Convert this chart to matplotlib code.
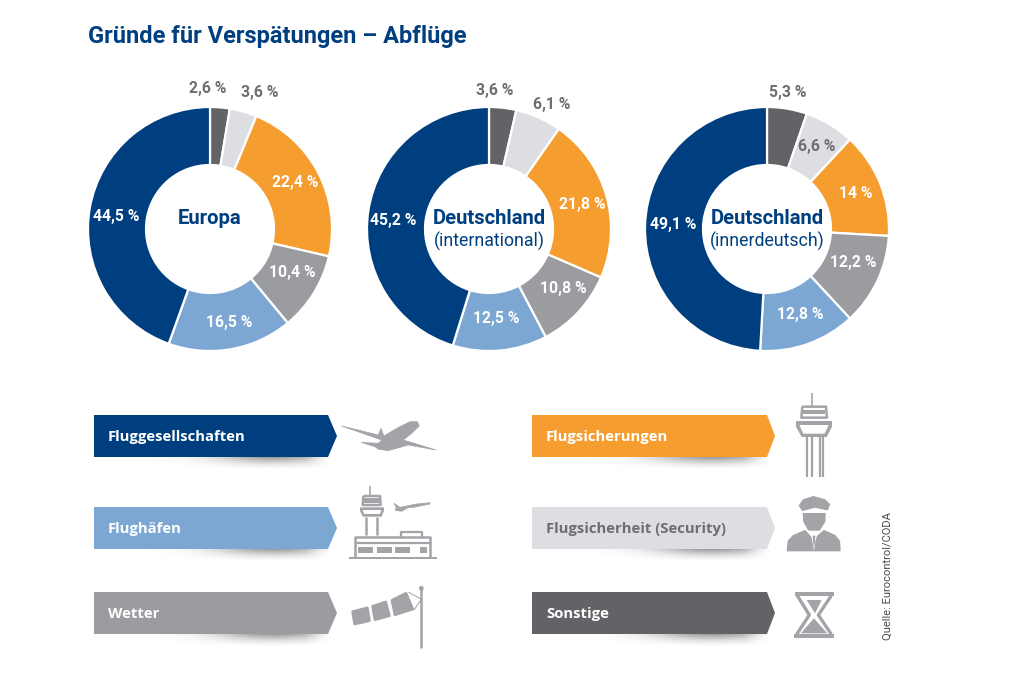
import numpy as np
import matplotlib
matplotlib.use('Agg')
import matplotlib.pyplot as plt
from matplotlib.patches import Polygon, Circle

# data
categories = ['Sonstige', 'Flugsicherheit (Security)', 'Flugsicherungen', 'Wetter', 'Flughäfen', 'Fluggesellschaften']
europa = [2.6, 3.6, 22.4, 10.4, 16.5, 44.5]
de_international = [3.6, 6.1, 21.8, 10.8, 12.5, 45.2]
de_innerdeutsch = [5.3, 6.6, 14, 12.2, 12.8, 49.1]
europa_labels = ['2,6 %', '3,6 %', '22,4 %', '10,4 %', '16,5 %', '44,5 %']
international_labels = ['3,6 %', '6,1 %', '21,8 %', '10,8 %', '12,5 %', '45,2 %']
innerdeutsch_labels = ['5,3 %', '6,6 %', '14 %', '12,2 %', '12,8 %', '49,1 %']
legend_rows = ['Fluggesellschaften', 'Flughäfen', 'Wetter', 'Flugsicherungen', 'Flugsicherheit (Security)', 'Sonstige']

# colours
NAVY = '#003f7f'
LIGHTBLUE = '#7da7d3'
GREY = '#9b9ca0'
ORANGE = '#f59d2e'
PALE = '#dcdee2'
DARK = '#626366'
ICON = '#a3a4a7'
LABEL = '#6d6e71'
colors = [DARK, PALE, ORANGE, GREY, LIGHTBLUE, NAVY]

W, H = 1024, 683
R = 122
HOLE = 64
FONT = ['Roboto', 'DejaVu Sans']

fig = plt.figure(figsize=(W / 100, H / 100), dpi=100, facecolor='white')
page = fig.add_axes([0, 0, 1, 1])
page.set_xlim(0, W)
page.set_ylim(H, 0)
page.axis('off')


def donut(cx, cy, values, labels, title, subtitle, label_pos, dark):
    ax = fig.add_axes([(cx - R) / W, 1 - (cy + R) / H, 2 * R / W, 2 * R / H])
    ax.pie(values, colors=colors, startangle=90, counterclock=False, radius=1,
           wedgeprops=dict(width=1 - HOLE / R, edgecolor='white', linewidth=1.6))
    ax.set_xlim(-1, 1)
    ax.set_ylim(-1, 1)
    for i, lab in enumerate(labels):
        x, y = label_pos[i]
        col = LABEL if i in dark else 'white'
        ax.text((x - cx) / R, (cy - y) / R, lab, ha='center', va='center', color=col,
                fontsize=11.3, fontweight='bold', family=FONT)
    if subtitle:
        ax.text(0, 0.09, title, ha='center', va='center', color=NAVY, fontsize=14.6,
                fontweight='bold', family=FONT)
        ax.text(0, -0.105, subtitle, ha='center', va='center', color=NAVY, fontsize=12.8,
                family=['Liberation Sans Narrow', 'Roboto'])
    else:
        ax.text(0, 0.09, title, ha='center', va='center', color=NAVY, fontsize=14.6,
                fontweight='bold', family=FONT)


donut(210, 229, europa, europa_labels, 'Europa', None,
      [(208, 89), (260, 92), (295, 182), (292, 273), (229, 322), (116, 217)], (0, 1))
donut(489, 229, de_international, international_labels, 'Deutschland', '(international)',
      [(495, 91), (552, 105), (582, 204), (563, 288), (496, 319), (393, 220)], (0, 1))
donut(767, 229, de_innerdeutsch, innerdeutsch_labels, 'Deutschland', '(innerdeutsch)',
      [(788, 93), (817, 147), (856, 193), (853, 262), (800, 315), (673, 224)], (0, 1))

page.text(88, 36, 'Gründe für Verspätungen – Abflüge', color=NAVY, fontsize=17,
          fontweight='bold', va='center', ha='left', family=FONT)


def shadow(x0, x1, y0):
    # soft drop shadow under a legend bar, strongest towards the right
    gx, gy = np.meshgrid(np.linspace(0, 1, 200), np.linspace(0, 1, 20))
    a = 0.55 * np.exp(-((gx - 0.72) / 0.28) ** 2) * (1 - gy) ** 1.6
    a = a * np.clip((1 - gx) / 0.12, 0, 1)  # no hard edge on the right
    img = np.zeros((20, 200, 4))
    img[..., :3] = 0.3
    img[..., 3] = a
    page.imshow(img, extent=(x0, x1, y0 + 13, y0), aspect='auto', zorder=1, interpolation='bilinear')


def bar(x0, y0, x1, y1, tip, color, text, text_color='white'):
    shadow(x0 + 30, x1 + 4, y1)
    ym = (y0 + y1) / 2
    page.add_patch(Polygon([(x0, y0), (x1, y0), (tip, ym), (x1, y1), (x0, y1)],
                           fc=color, ec='none', zorder=2))
    page.text(x0 + 14, ym + 1, text, color=text_color, fontsize=10.7, fontweight='bold',
              va='center', ha='left', family=['Open Sans', 'DejaVu Sans'], zorder=3)


bar(94, 415, 328, 457, 337, NAVY, legend_rows[0])
bar(94, 507, 328, 549, 337, LIGHTBLUE, legend_rows[1])
bar(94, 592, 328, 634, 337, GREY, legend_rows[2])
bar(532, 415, 767, 457, 775, ORANGE, legend_rows[3])
bar(532, 507, 767, 549, 775, PALE, legend_rows[4], text_color=LABEL)
bar(532, 592, 767, 634, 775, DARK, legend_rows[5])


# icons, traced in the coordinates of the zoomed crops
def left(pts):
    return [(80 + x / 3, 390 + y / 3) for x, y in pts]


def right(pts):
    return [(520 + x / 3, 385 + y / 3) for x, y in pts]


def poly(pts, color=ICON, edge=0):
    page.add_patch(Polygon(pts, fc=color, ec=color if edge else 'none', lw=edge,
                           joinstyle='round', zorder=2))


def line(pts, lw=1.6, color=ICON):
    xs, ys = zip(*pts)
    page.plot(xs, ys, color=color, lw=lw, solid_capstyle='butt', zorder=2)
    page.set_xlim(0, W)
    page.set_ylim(H, 0)


# plane
poly(left([(785, 108), (895, 135), (903, 115), (912, 138), (950, 115), (990, 95), (1012, 95), (1018, 108),
           (995, 130), (970, 150), (1068, 180), (985, 165), (950, 175), (925, 182), (895, 178), (885, 170),
           (843, 157), (895, 160), (905, 150)]), edge=0.5)

# airport
line(left([(870, 288), (870, 318)]), 1.2)
line(left([(850, 318), (900, 318), (902, 345), (848, 345), (850, 318)]), 1.8)
poly(left([(850, 325), (900, 325), (900, 338), (850, 338)]))
poly(left([(840, 352), (912, 352), (912, 362), (905, 380), (848, 380), (840, 362)]))
poly(left([(848, 360), (904, 360), (900, 372), (852, 372)]), 'white')
line(left([(858, 380), (858, 435)]), 1.8)
line(left([(890, 380), (890, 435)]), 1.8)
poly(left([(942, 340), (950, 355), (1000, 352), (1050, 342), (1050, 338), (1010, 342), (960, 352)]), edge=0.5)
poly(left([(945, 355), (985, 354), (965, 365), (945, 362)]))
line(left([(824, 500), (824, 442), (1050, 442), (1050, 500)]), 1.8)
line(left([(962, 442), (962, 426), (1025, 426), (1025, 442)]), 1.6)
line(left([(824, 458), (1050, 458)]), 1.6)
poly(left([(808, 500), (1070, 500), (1070, 508), (808, 508)]))
for xa, xb in [(835, 880), (890, 935), (945, 990), (1020, 1040)]:
    poly(left([(xa, 470), (xb, 470), (xb, 490), (xa, 490)]))

# windsock
line(left([(1024, 595), (1024, 775)]), 1.8)
page.add_patch(Circle(left([(1024, 595)])[0], 2.4, fc=ICON, ec='none', zorder=2))
poly(left([(818, 665), (862, 654), (868, 692), (824, 702)]), edge=2)
poly(left([(878, 649), (917, 636), (928, 677), (885, 689)]), edge=2)
poly(left([(936, 631), (978, 610), (998, 657), (945, 674)]), edge=2)
line(left([(985, 606), (1024, 628), (1002, 660)]), 0.7)

# control tower
line(right([(877, 25), (877, 65)]), 1.2)
line(right([(847, 65), (918, 65), (921, 98), (844, 98), (847, 65)]), 1.8)
poly(right([(850, 75), (915, 75), (915, 88), (850, 88)]))
poly(right([(828, 108), (936, 108), (936, 125), (920, 156), (845, 156), (828, 125)]))
poly(right([(838, 120), (926, 120), (914, 146), (850, 146)]), 'white')
for x in (860, 876, 900, 908):
    line(right([(x, 156), (x, 275)]), 1.6)

# security officer
poly(right([(838, 362), (850, 345), (880, 335), (915, 345), (928, 358), (922, 374), (885, 366), (848, 376)]), edge=1)
poly(right([(850, 386), (915, 386), (914, 410), (898, 435), (866, 435), (852, 410)]), edge=1)
poly(right([(802, 497), (805, 468), (820, 452), (855, 437), (880, 465), (912, 437), (945, 452), (958, 468), (960, 497)]), edge=1)
poly(right([(872, 446), (892, 446), (886, 470), (882, 497), (877, 470)]), 'white')
poly(right([(878, 452), (886, 452), (885, 470), (882, 490), (879, 470)]))

# hourglass
poly(right([(825, 622), (942, 622), (942, 632), (825, 632)]))
poly(right([(822, 748), (942, 748), (942, 758), (822, 758)]))
line(right([(832, 632), (868, 690), (830, 748)]), 2.4)
line(right([(934, 632), (895, 690), (934, 748)]), 2.4)
poly(right([(860, 645), (905, 645), (885, 685)]))
poly(right([(842, 745), (882, 700), (922, 745)]))

page.text(888, 576, 'Quelle: Eurocontrol/CODA', rotation=90, color='#4a4a4c', fontsize=8,
          va='center', ha='center', family=['Liberation Sans Narrow', 'Roboto'])

fig.savefig('out.png', dpi=100, facecolor='white')
plt.close(fig)
